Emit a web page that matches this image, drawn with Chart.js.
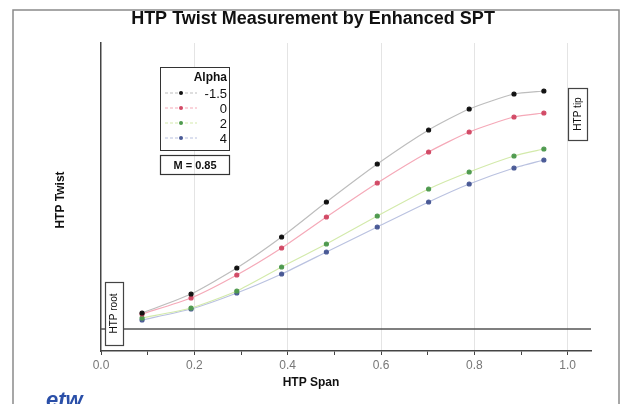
<!DOCTYPE html>
<html>
<head>
<meta charset="utf-8">
<script src="https://cdn.jsdelivr.net/npm/chart.js@4"></script>
<style>
  body { margin: 0; background: #fff; }
  #wrap { width: 623px; height: 404px; }
</style>
</head>
<body>
<div id="wrap"><canvas id="chart" width="623" height="404"></canvas></div>
<script>
// span positions of the measurement stations
let span = [0.088, 0.193, 0.291, 0.387, 0.483, 0.592, 0.702, 0.789, 0.885, 0.949];

// twist values (arbitrary units, no y labels in the source)
let alphaM15 = [1.6, 3.5, 6.1, 9.2, 12.7, 16.5, 19.9, 22.0, 23.5, 23.8];
let alpha0 = [1.5, 3.1, 5.4, 8.1, 11.2, 14.6, 17.7, 19.7, 21.2, 21.6];
let alpha2 = [1.1, 2.1, 3.8, 6.2, 8.5, 11.3, 14.0, 15.7, 17.3, 18.0];
let alpha4 = [0.9, 2.0, 3.6, 5.5, 7.7, 10.2, 12.7, 14.5, 16.1, 16.9];

let alphaLabels = ["-1.5", "0", "2", "4"];
let pointColors = ["#111111", "#d24a66", "#4f9a4f", "#4a5a96"];
let lineColors = ["#bdbdbd", "#f5a9b8", "#d3eaab", "#bac2e0"];

function toPoints(ys) {
	return span.map((x, i) => ({ x: x, y: ys[i] }));
}

let seriesValues = [alphaM15, alpha0, alpha2, alpha4];

let data = {
	datasets: seriesValues.map((ys, i) => ({
		label: alphaLabels[i],
		data: toPoints(ys),
		borderColor: lineColors[i],
		backgroundColor: pointColors[i],
		pointBackgroundColor: pointColors[i],
		pointBorderColor: pointColors[i],
		borderWidth: 1.2,
		pointRadius: 2,
		tension: 0.2,
	})),
};

// draws the titles, frame, reference line and the boxed notes
const decorations = {
	id: "decorations",
	beforeDatasetsDraw(chart) {
		const ctx = chart.ctx;
		const area = chart.chartArea;
		const y0 = chart.scales.y.getPixelForValue(0);
		ctx.save();
		ctx.strokeStyle = "#555";
		ctx.lineWidth = 1.5;
		ctx.beginPath();
		ctx.moveTo(area.left, y0);
		ctx.lineTo(area.right, y0);
		ctx.stroke();
		ctx.restore();
	},
	afterDraw(chart) {
		const ctx = chart.ctx;
		ctx.save();
		// outer frame
		ctx.strokeStyle = "#8a8a8a";
		ctx.lineWidth = 1.5;
		ctx.strokeRect(13, 10, 606, 400);

		ctx.fillStyle = "#111";
		ctx.textAlign = "center";
		ctx.textBaseline = "middle";
		ctx.font = "bold 18px 'Liberation Sans', Arial, sans-serif";
		ctx.fillText("HTP Twist Measurement by Enhanced SPT", 313, 19);

		ctx.font = "bold 12px 'Liberation Sans', Arial, sans-serif";
		ctx.fillText("HTP Span", 311, 383);
		ctx.save();
		ctx.translate(61, 200);
		ctx.rotate(-Math.PI / 2);
		ctx.fillText("HTP Twist", 0, 0);
		ctx.restore();

		// legend box
		ctx.strokeStyle = "#333";
		ctx.lineWidth = 1;
		ctx.fillStyle = "#fff";
		ctx.fillRect(160.5, 67.5, 69, 83);
		ctx.strokeRect(160.5, 67.5, 69, 83);
		ctx.fillStyle = "#111";
		ctx.textAlign = "right";
		ctx.font = "bold 12px 'Liberation Sans', Arial, sans-serif";
		ctx.fillText("Alpha", 227, 78);
		ctx.font = "13px 'Liberation Sans', Arial, sans-serif";
		alphaLabels.forEach((lab, i) => {
			const y = 93 + i * 15;
			ctx.strokeStyle = lineColors[i];
			ctx.lineWidth = 1.2;
			ctx.setLineDash([3, 2]);
			ctx.beginPath();
			ctx.moveTo(165, y);
			ctx.lineTo(197, y);
			ctx.stroke();
			ctx.setLineDash([]);
			ctx.fillStyle = pointColors[i];
			ctx.beginPath();
			ctx.arc(181, y, 2, 0, Math.PI * 2);
			ctx.fill();
			ctx.fillStyle = "#111";
			ctx.fillText(lab, 227, y + 1);
		});

		// Mach box
		ctx.strokeStyle = "#333";
		ctx.strokeRect(160.5, 155.5, 69, 19);
		ctx.textAlign = "center";
		ctx.font = "bold 11px 'Liberation Sans', Arial, sans-serif";
		ctx.fillText("M = 0.85", 195, 165.5);

		// rotated notes
		const note = (text, x, y, w, h) => {
			ctx.fillStyle = "#fff";
			ctx.fillRect(x, y, w, h);
			ctx.strokeStyle = "#444";
			ctx.strokeRect(x + 0.5, y + 0.5, w, h);
			ctx.save();
			ctx.translate(x + w / 2 + 0.5, y + h / 2);
			ctx.rotate(-Math.PI / 2);
			ctx.fillStyle = "#111";
			ctx.textAlign = "center";
			ctx.font = "10px 'Liberation Sans', Arial, sans-serif";
			ctx.fillText(text, 0, 0);
			ctx.restore();
		};
		note("HTP tip", 568, 88, 19, 52);
		note("HTP root", 105, 282, 18, 63);

		// logo
		ctx.fillStyle = "#2a4fa8";
		ctx.textAlign = "left";
		ctx.textBaseline = "alphabetic";
		ctx.font = "italic bold 22px 'Liberation Sans', Arial, sans-serif";
		ctx.fillText("etw", 46, 407);
		ctx.restore();
	},
};

let config = {
	type: "line",
	data: data,
	plugins: [decorations],
	options: {
		responsive: false,
		animation: false,
		layout: {
			padding: { left: 101, right: 32, top: 43, bottom: 0 },
		},
		plugins: {
			legend: { display: false },
			tooltip: { enabled: false },
		},
		scales: {
			x: {
				type: "linear",
				min: 0,
				max: 1.05,
				afterFit: (scale) => {
					scale.height = 53;
				},
				afterBuildTicks: (scale) => {
					let t = [];
					for (let i = 0; i <= 10; i++) t.push({ value: i / 10 });
					scale.ticks = t;
				},
				border: { color: "#444", width: 1.5 },
				grid: {
					drawTicks: true,
					tickLength: 4,
					color: (c) => (c.tick && Math.round(c.tick.value * 10) % 2 === 0 && c.tick.value > 0 ? "#e4e4e4" : "rgba(0,0,0,0)"),
					tickColor: "#444",
				},
				ticks: {
					padding: 3,
					color: "#777",
					font: { size: 12, family: "'Liberation Sans', Arial, sans-serif" },
					maxRotation: 0,
					autoSkip: false,
					callback: (v) => (Math.round(v * 10) % 2 === 0 ? v.toFixed(1) : ""),
				},
			},
			y: {
				min: -2.2,
				max: 28.6,
				afterFit: (scale) => {
					scale.width = 0;
				},
				border: { color: "#444", width: 1.5 },
				grid: { display: false, drawTicks: false },
				ticks: { display: false },
			},
		},
	},
};

const chart = new Chart(document.getElementById("chart"), config);
</script>
</body>
</html>
